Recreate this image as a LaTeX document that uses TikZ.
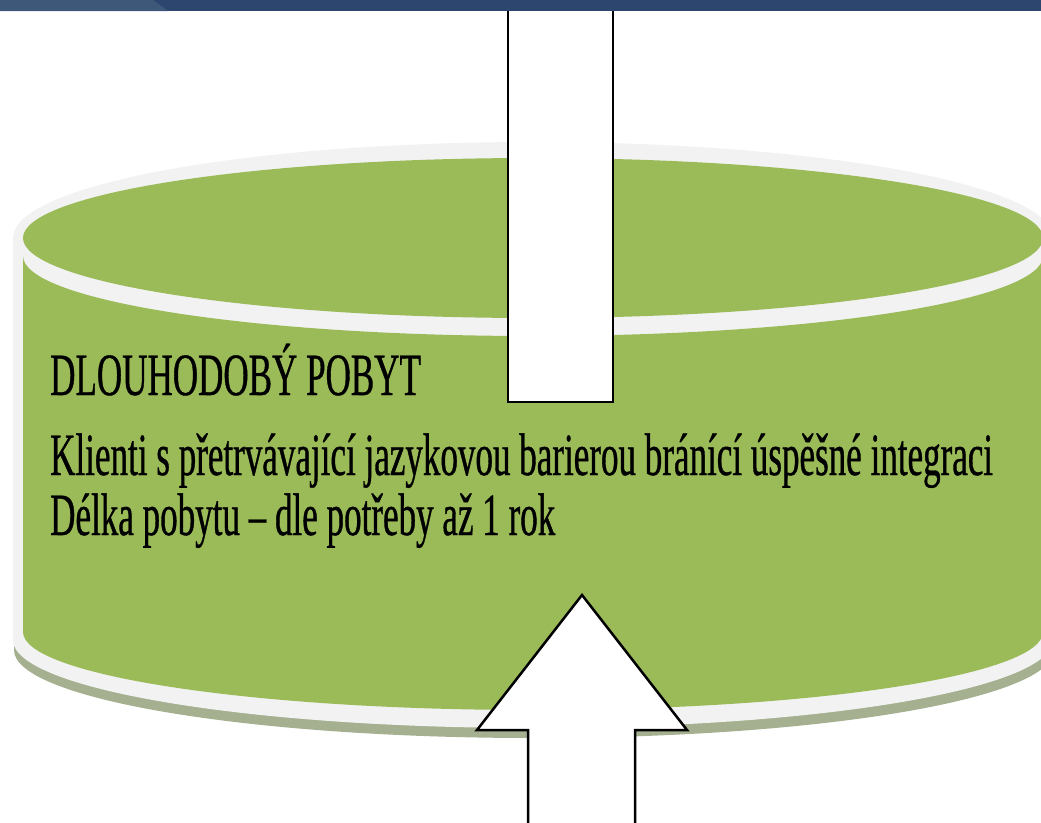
\documentclass[tikz,border=0pt]{standalone}
\usepackage{fontspec}
\usepackage{tikz}
\newfontfamily\narrowserif[FakeStretch=0.584,FakeBold=0.6]{Liberation Serif}
\definecolor{cylgreen}{HTML}{9BBB59}
\definecolor{cylband}{HTML}{F2F2F2}
\definecolor{cylshadow}{HTML}{A4B08F}
\definecolor{bardark}{HTML}{2D4670}
\definecolor{barlight}{HTML}{3D5879}

\begin{document}
\begin{tikzpicture}[x=1pt,y=1pt,
    cyltext/.style={anchor=base west,inner sep=0pt,font=\narrowserif\fontsize{60}{60}\selectfont}]
  \useasboundingbox (0,0) rectangle (1041,-822);
  % cylinder: shadow, white rim, body, lid
  \fill[cylshadow] (14,-248) -- (14,-650) arc[start angle=180,end angle=360,x radius=520,y radius=88]
    -- (1054,-248) arc[start angle=0,end angle=180,x radius=520,y radius=96] -- cycle;
  \fill[cylband] (13,-238) -- (13,-640) arc[start angle=180,end angle=360,x radius=520,y radius=88]
    -- (1053,-238) arc[start angle=0,end angle=180,x radius=520,y radius=96] -- cycle;
  \fill[cylgreen] (23,-256) -- (23,-632) arc[start angle=180,end angle=360,x radius=510,y radius=78]
    -- (1043,-256) arc[start angle=360,end angle=180,x radius=510,y radius=80] -- cycle;
  \fill[cylgreen] (533,-238) ellipse[x radius=510,y radius=80];
  % arrow coming in from the top
  \filldraw[fill=white,draw=black,line width=2.5pt] (508,-5) rectangle (613,-402);
  % arrow pointing up from below
  \filldraw[fill=white,draw=black,line width=2.5pt,line join=miter] (582,-595) -- (687,-730) -- (635,-730)
    -- (635,-830) -- (528,-830) -- (528,-730) -- (477,-730) -- cycle;
  % top bar
  \fill[bardark] (0,0) rectangle (1041,-11);
  \fill[barlight] (0,0) -- (153,0) -- (168,-11) -- (0,-11) -- cycle;
  \node[cyltext] (title) at (50,-395) {DLOUHODOBÝ POBYT};
  \node[cyltext] (clients) at (50,-475) {Klienti s přetrvávající jazykovou barierou bránící úspěšné integraci};
  \node[cyltext] (duration) at (50,-535) {Délka pobytu – dle potřeby až 1 rok};
\end{tikzpicture}
\end{document}
